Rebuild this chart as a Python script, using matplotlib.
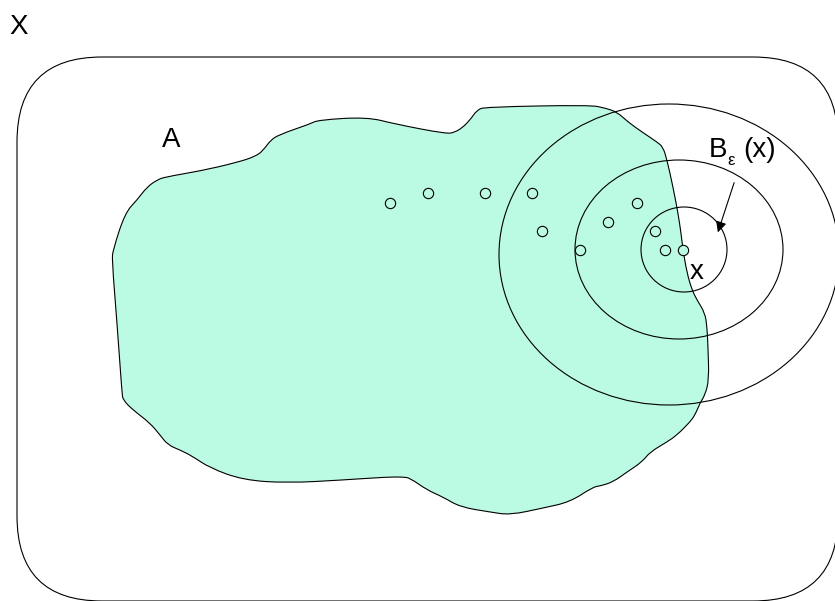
import matplotlib.pyplot as plt
from matplotlib.patches import PathPatch, Ellipse, FancyBboxPatch
from matplotlib.path import Path

plt.rcParams['font.family'] = ['Liberation Sans', 'DejaVu Sans']

# --- Diagram data (pixel units, y grows downward) ---
# outline of the set A
blob_x = [137, 147, 157, 165, 200, 235, 257, 265, 270, 278, 310, 318, 367, 395, 447, 455,
          462, 470, 477, 485, 590, 605, 617, 628, 642, 657, 663, 667, 673, 678, 681, 683,
          687, 692, 697, 705, 707, 708, 709, 705, 700, 695, 690, 677, 667, 650, 642, 627,
          613, 600, 593, 570, 543, 510, 490, 460, 443, 427, 410, 403, 387, 343, 287, 243,
          210, 192, 180, 168, 160, 150, 133, 123, 122, 117, 112, 113, 125]
blob_y = [200, 187, 180, 177, 171, 163, 156, 148, 141, 135, 124, 120, 117, 124, 134, 132,
          128, 120, 110, 107, 105, 108, 112, 122, 132, 142, 147, 160, 187, 213, 233, 250,
          273, 290, 300, 313, 327, 347, 380, 395, 403, 415, 422, 435, 442, 452, 462, 472,
          482, 486, 487, 502, 508, 515, 512, 507, 497, 490, 478, 477, 477, 480, 483, 480,
          468, 456, 450, 445, 435, 423, 410, 400, 393, 323, 260, 250, 213]

# sequence of points converging to x
pts_x = [390, 428, 485, 532, 542, 580, 608, 637, 655, 665, 683]
pts_y = [203, 193, 193, 193, 231, 250, 222, 203, 231, 250, 250]

# neighbourhoods (center x, center y, half-width, half-height)
balls_cx = [684, 679, 669]
balls_cy = [249.5, 249.5, 254.5]
balls_rx = [43, 104, 170]
balls_ry = [42.5, 89.5, 150.5]

# universe X as rounded box
space_box = (17, 57, 838, 601)
FILL = '#bbfbe3'

fig = plt.figure(figsize=(8.35, 6.01), dpi=100)
ax = fig.add_axes([0, 0, 1, 1])
ax.set_xlim(0, 835)
ax.set_ylim(601, 0)
ax.axis('off')

x0, y0, x1, y1 = space_box
ax.add_patch(FancyBboxPatch((x0, y0), x1 - x0, y1 - y0,
                            boxstyle='round,pad=0,rounding_size=85',
                            fc='white', ec='black', lw=0.8))

# smooth outline: quadratic curves with the traced points as control points
n = len(blob_x)
P = list(zip(blob_x, blob_y))
mid = lambda a, b: ((a[0] + b[0]) / 2, (a[1] + b[1]) / 2)
verts = [mid(P[0], P[1])]
codes = [Path.MOVETO]
for i in range(1, n + 1):
    verts += [P[i % n], mid(P[i % n], P[(i + 1) % n])]
    codes += [Path.CURVE3, Path.CURVE3]
verts.append(verts[0])
codes.append(Path.CLOSEPOLY)
ax.add_patch(PathPatch(Path(verts, codes), fc=FILL, ec='black', lw=0.8))

for cx, cy, rx, ry in zip(balls_cx, balls_cy, balls_rx, balls_ry):
    ax.add_patch(Ellipse((cx, cy), 2 * rx, 2 * ry, fc='none', ec='black', lw=0.8))

ax.scatter(pts_x, pts_y, s=55, facecolors=FILL, edgecolors='black', linewidths=0.8, zorder=5)

# labels
ax.text(9, 34, 'X', fontsize=20, va='baseline', ha='left')
ax.text(162, 147, 'A', fontsize=20, va='baseline', ha='left')
ax.text(690, 279, 'x', fontsize=20, va='baseline', ha='left')
ax.text(709, 157, 'B', fontsize=20, va='baseline', ha='left')
ax.text(727, 165, 'ε', fontsize=12, va='baseline', ha='left')
ax.text(743, 157, '(x)', fontsize=20, va='baseline', ha='left')

ax.annotate('', xy=(717, 235), xytext=(735, 180),
            arrowprops=dict(arrowstyle='-|>', lw=0.8, color='black', mutation_scale=16))

fig.savefig('out.png', dpi=100)
